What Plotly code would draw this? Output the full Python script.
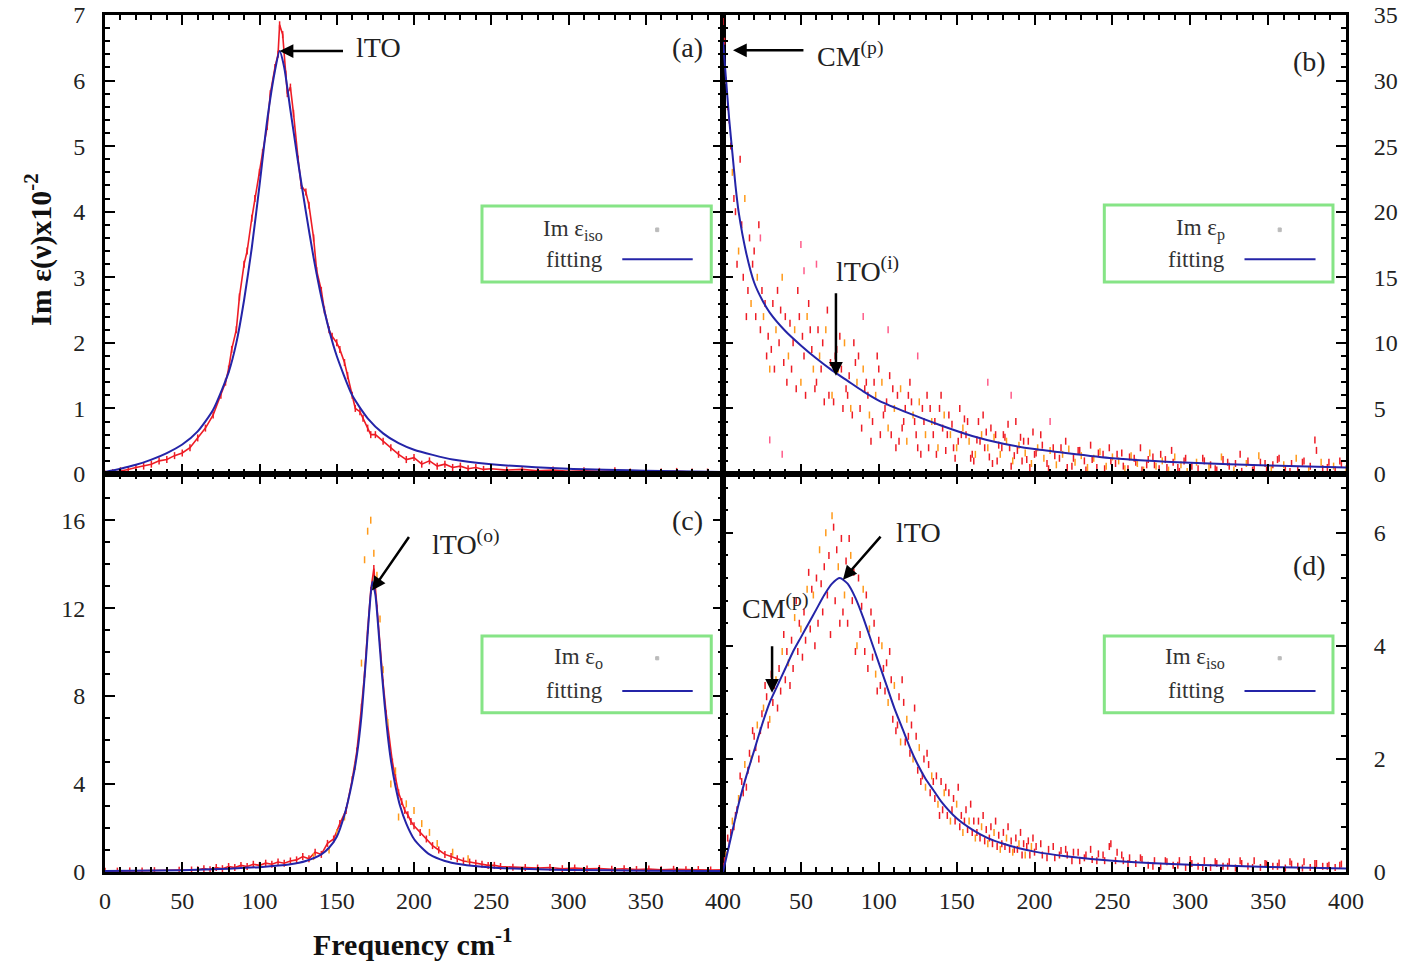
import plotly.graph_objects as go

FONT = "Liberation Serif"
RED = "#ee1c25"
ORANGE = "#ff9a1a"
PINK = "#ff5c8a"
BLUE = "#2424a8"
GREEN = "#86e486"

# ---------------- panel (a) ----------------
a_x = [0, 5, 10, 15, 20, 25, 30, 35, 40, 45, 50, 55, 60, 65, 70, 75, 78, 80, 82, 85,
       87, 90, 92, 95, 97, 100, 102, 105, 107, 110, 112, 113, 115, 117, 118, 120, 122, 125, 127, 130,
       132, 135, 137, 140, 142, 145, 147, 150, 152, 155, 157, 160, 162, 165, 167, 170, 172, 175, 180, 185,
       190, 195, 200, 205, 210, 215, 220, 225, 230, 235, 240, 245, 250, 260, 270, 280, 290, 300, 310, 320,
       330, 340, 350, 360, 370, 380, 390, 400]
a_y = [0.0, 0.02, 0.05, 0.07, 0.1, 0.12, 0.15, 0.2, 0.22, 0.28, 0.32, 0.4, 0.55, 0.7, 0.9, 1.2, 1.4, 1.6, 1.9, 2.2,
       2.7, 3.2, 3.4, 3.9, 4.2, 4.6, 4.9, 5.3, 5.8, 6.2, 6.4, 6.85, 6.7, 6.1, 5.8, 5.9, 5.5, 4.8, 4.4, 4.3,
       4.1, 3.6, 3.1, 2.8, 2.5, 2.2, 2.1, 2.0, 1.9, 1.7, 1.5, 1.2, 1.0, 0.95, 0.85, 0.7, 0.6, 0.6, 0.5, 0.4,
       0.3, 0.22, 0.25, 0.15, 0.2, 0.12, 0.15, 0.1, 0.12, 0.08, 0.1, 0.07, 0.08, 0.06, 0.07, 0.05, 0.06, 0.04, 0.05, 0.04,
       0.05, 0.03, 0.04, 0.03, 0.04, 0.03, 0.03, 0.02]
fa_x = [0, 10, 20, 30, 40, 50, 60, 70, 80, 85, 90, 95, 100, 105, 110, 113, 116, 120, 125, 130,
        135, 140, 145, 150, 160, 170, 180, 190, 200, 225, 250, 300, 350, 400]
fa_y = [0.03, 0.08, 0.14, 0.22, 0.32, 0.45, 0.65, 0.98, 1.55, 2.0, 2.65, 3.45, 4.4, 5.4, 6.15, 6.45, 6.2, 5.55, 4.75, 4.0,
        3.3, 2.7, 2.2, 1.8, 1.2, 0.85, 0.62, 0.47, 0.37, 0.22, 0.15, 0.08, 0.05, 0.03]

# ---------------- panel (b) ----------------
bR_x = [0, 4, 8, 12, 16, 20, 24, 28, 32, 36, 40, 44, 48, 52, 56, 60, 64, 68, 72, 76,
        80, 84, 88, 92, 96, 100, 104, 108, 112, 116, 120, 124, 128, 132, 136, 140, 144, 148, 152, 156,
        160, 164, 168, 172, 176, 180, 184, 188, 192, 196, 200, 204, 208, 212, 216, 220, 224, 228, 232, 236,
        240, 244, 248, 252, 256, 260, 264, 268, 272, 276, 280, 284, 288, 292, 296, 300,
        308, 316, 324, 332, 340, 348, 356, 364, 372, 380, 388, 396]
bR_y = [34.5, 27, 20, 19, 14, 17, 11, 9, 13, 10, 12, 8, 14, 9, 11, 7, 10, 6, 9, 8,
        6, 10, 5, 7, 4, 8, 5, 3, 6, 4, 7, 3, 5, 2, 4, 6, 3, 2, 5, 3,
        1.5, 4, 2, 3.5, 1, 3, 2, 4, 1, 2.5, 1.5, 3, 0.8, 2, 1.2, 2.5, 0.6, 1.8, 1, 2.2,
        0.5, 1.5, 2, 0.8, 1.6, 0.4, 1.2, 2, 0.7, 1.3, 0.4, 1.1, 1.8, 0.5, 1, 0.3,
        1.2, 0.4, 0.9, 1.5, 0.3, 0.8, 1.1, 0.2, 0.9, 2.6, 0.5, 1.0]
bR2_x = [1, 5, 9, 13, 17, 21, 25, 29, 33, 37, 41, 45, 49, 53, 57, 61, 65, 69, 73, 77,
         81, 85, 89, 93, 97, 101, 105, 109, 113, 117, 121, 125, 129, 133, 137, 141, 145, 149, 153, 157,
         161, 165, 169, 173, 177, 181, 185, 189, 193, 197, 201, 205, 209, 213, 217, 221, 225, 229, 233, 237,
         241, 245, 249, 253, 257, 261, 265, 269, 273, 277, 281, 285, 289, 293, 297, 301, 305, 309, 313, 317,
         321, 325, 329, 333, 337, 341, 345, 349, 353, 357, 361, 365, 369, 373, 377, 381, 385, 389, 393, 397]
bR2_y = [33, 25, 16, 15, 18, 12, 14, 10.5, 8, 12.5, 7, 10, 12, 6, 9.5, 11, 5.5, 8.5, 9.5, 5,
         7.5, 8.5, 3.5, 6, 7, 3, 5.5, 6.5, 2.5, 5, 5.5, 2, 4, 5, 1.5, 3.5, 4.5, 1.2, 3, 4,
         1, 2.5, 3.2, 0.8, 2.2, 2.8, 0.6, 1.8, 2.5, 0.5, 1.6, 2.2, 0.4, 1.4, 2, 0.5, 1.2, 1.8, 0.3, 1.1,
         1.6, 0.4, 1, 1.5, 0.6, 1.3, 0.9, 0.3, 1.1, 0.7, 1.5, 0.5, 0.9, 0.2, 1.2, 0.6, 0.4, 1.0, 0.7, 0.3,
         1.1, 0.6, 0.8, 0.2, 1.0, 0.5, 0.9, 0.3, 0.7, 1.2, 0.4, 0.8, 0.3, 1.0, 0.6, 1.8, 0.4, 0.9, 0.3, 0.8]
bR3_x = [3, 7, 11, 15, 19, 23, 27, 31, 35, 39, 43, 47, 51, 55, 59, 63, 67, 71, 75, 79,
         83, 87, 91, 95, 99, 103, 107, 111, 115, 119, 123, 127, 131, 135, 139, 143, 147, 151, 155, 159,
         163, 167, 171, 175, 179, 183, 187, 191, 195, 199]
bR3_y = [28, 21, 24, 12, 16, 19, 13, 9.5, 14, 8.5, 11.5, 6.5, 10.5, 13, 6.5, 8, 12.5, 5.5, 10.5, 6.5,
         4.5, 9, 6.5, 2.5, 9, 4.5, 7.5, 2, 3.5, 6, 4, 1.5, 6, 3, 5, 1.8, 3.8, 2.5, 4.2, 1.2,
         2.6, 4.5, 1.3, 3, 2, 3.8, 1.4, 2.8, 1.1, 3.2]
bO_x = [2, 6, 10, 14, 18, 22, 26, 30, 34, 38, 42, 46, 50, 54, 58, 62, 66, 70, 74, 78,
        82, 86, 90, 94, 98, 102, 106, 110, 114, 118, 122, 126, 130, 134, 138, 142, 146, 150, 154, 158,
        162, 166, 170, 174, 178, 182, 186, 190, 194, 198, 202, 206, 210, 214, 218, 222, 226, 230, 234, 238,
        242, 246, 250, 254, 258, 262, 266, 270, 274, 278, 282, 286, 290, 294, 298,
        304, 312, 320, 328, 336, 344, 352, 360, 368, 376, 384, 392, 400]
bO_y = [30, 23, 17, 21, 13, 15, 12, 8, 11, 15, 9, 11, 7, 12, 8, 9, 11, 6, 8, 10,
        5, 7, 8, 4.5, 6, 7, 3.5, 5, 6.5, 2.5, 4.5, 5.5, 3, 4, 2, 4.5, 3, 2, 3.5, 2.5,
        1.5, 3, 2, 2.8, 1.5, 2.5, 1, 2.2, 1.6, 0.8, 2, 1.2, 1.8, 0.7, 1.5, 1.9, 0.9, 1.4, 0.5, 1.2,
        1.7, 0.6, 1.3, 1, 0.4, 1.4, 0.8, 0.3, 1.6, 0.6, 1.0, 0.3, 1.3, 0.7, 0.2,
        0.9, 0.5, 1.3, 0.3, 0.8, 1.4, 0.4, 0.7, 1.2, 0.3, 0.9, 0.6, 0.4]
bP_x = [24, 50, 52, 30, 38, 60, 90, 106, 125, 170, 185, 210]
bP_y = [18, 17.5, 15.5, 2.6, 1.5, 16, 12, 11, 9, 7, 6, 4]
fb_x = [0, 2, 4, 6, 8, 10, 15, 20, 25, 30, 40, 50, 60, 70, 80, 90, 100, 120, 140, 160,
        180, 200, 220, 250, 300, 350, 400]
fb_y = [33, 30, 27, 24.5, 22, 20, 16.8, 14.6, 13.3, 12.3, 10.9, 9.8, 8.8, 7.9, 7.1, 6.3, 5.6, 4.6, 3.7, 2.9,
        2.3, 1.9, 1.6, 1.2, 0.85, 0.65, 0.5]

# ---------------- panel (c) ----------------
cR_x = [0, 8, 16, 24, 32, 40, 48, 56, 60, 64, 68, 72, 76, 80, 84, 88, 92, 96, 100, 104,
        108, 112, 116, 120, 124, 128, 132, 136, 140, 144, 148, 152, 156, 160, 163, 166, 168, 170, 172, 174,
        176, 178, 180, 182, 184, 186, 188, 190, 192, 194, 196, 198, 200, 204, 208, 212, 216, 220, 224, 228,
        232, 236, 240, 244, 248, 252, 256, 264, 272, 280, 288, 296, 304, 312, 320, 328, 336, 344, 352, 360,
        368, 376, 384, 392, 400]
cR_y = [0.03, 0.04, 0.05, 0.05, 0.06, 0.07, 0.08, 0.09, 0.1, 0.15, 0.1, 0.2, 0.15, 0.25, 0.2, 0.3, 0.25, 0.35, 0.3, 0.4,
        0.35, 0.45, 0.4, 0.5, 0.55, 0.7, 0.6, 0.9, 0.8, 1.3, 1.5, 2.2, 2.8, 4.2, 5.5, 7.5, 9.0, 11.0, 12.8, 13.8,
        12.0, 10.2, 8.6, 7.2, 6.0, 5.0, 4.3, 3.6, 3.2, 2.8, 2.6, 2.3, 2.1, 1.8, 1.5, 1.2, 1.0, 0.8, 0.7, 0.6,
        0.5, 0.45, 0.4, 0.35, 0.3, 0.3, 0.25, 0.22, 0.2, 0.18, 0.2, 0.15, 0.18, 0.14, 0.16, 0.12, 0.15, 0.11, 0.13, 0.1,
        0.12, 0.1, 0.11, 0.09, 0.1]
cO_x = [172, 170, 168, 174, 176, 166, 178, 185, 190, 195, 200, 205, 210, 215, 150, 155, 145, 135, 225, 235,
        162, 180, 183, 188]
cO_y = [16, 15.5, 14.2, 14.5, 13.5, 9.5, 11.5, 4.0, 2.5, 3.1, 2.8, 2.2, 1.8, 1.3, 1.8, 2.5, 1.0, 0.7, 0.9, 0.6,
        4.8, 9.2, 6.8, 4.6]
fc_x = [0, 50, 80, 100, 120, 130, 140, 145, 150, 155, 160, 163, 166, 169, 171, 173, 175, 177, 179, 181,
        183, 185, 188, 191, 195, 200, 205, 210, 220, 230, 250, 280, 300, 350, 400]
fc_y = [0.05, 0.08, 0.15, 0.22, 0.35, 0.5, 0.8, 1.1, 1.6, 2.6, 4.1, 5.3, 7.1, 9.8, 11.8, 13.2, 12.6, 11.0, 9.2, 7.6,
        6.2, 5.1, 3.9, 3.0, 2.2, 1.5, 1.1, 0.8, 0.5, 0.35, 0.2, 0.12, 0.09, 0.06, 0.04]

# ---------------- panel (d) ----------------
dR_x = [0, 4, 8, 12, 16, 20, 24, 28, 32, 36, 40, 44, 48, 52, 56, 60, 64, 68, 72, 76,
        80, 84, 88, 92, 96, 100, 104, 108, 112, 116, 120, 124, 128, 132, 136, 140, 144, 148, 152, 156,
        160, 164, 168, 172, 176, 180, 184, 188, 192, 196, 200, 204, 208, 212, 216, 220, 224, 228, 232, 236,
        240, 244, 248, 252, 256, 260,
        268, 276, 284, 292, 300, 308, 316, 324, 332, 340, 348, 356, 364, 372, 380, 388, 396]
dR_y = [0.1, 0.5, 1.0, 1.6, 1.8, 2.4, 2.5, 3.1, 3.0, 3.6, 3.4, 4.1, 3.9, 4.6, 4.3, 5.2, 4.6, 5.6, 4.8, 5.9,
        4.4, 5.3, 4.2, 4.9, 3.8, 4.1, 3.2, 3.4, 2.6, 3.0, 2.1, 2.4, 1.7, 1.9, 1.3, 1.6, 1.0, 1.3, 0.8, 1.1,
        0.7, 0.9, 0.55, 0.8, 0.45, 0.7, 0.4, 0.6, 0.3, 0.55, 0.35, 0.5, 0.25, 0.45, 0.3, 0.4, 0.2, 0.35, 0.25, 0.4,
        0.2, 0.3, 0.45, 0.2, 0.3, 0.15,
        0.25, 0.1, 0.2, 0.12, 0.22, 0.08, 0.18, 0.1, 0.2, 0.08, 0.15, 0.1, 0.18, 0.07, 0.15, 0.1, 0.12]
dR2_x = [1, 5, 9, 13, 17, 21, 25, 29, 33, 37, 41, 45, 49, 53, 57, 61, 65, 69, 73, 77,
         81, 85, 89, 93, 97, 101, 105, 109, 113, 117, 121, 125, 129, 133, 137, 141, 145, 149, 153, 157,
         161, 165, 169, 173, 177, 181, 185, 189, 193, 197, 201, 205, 209, 213, 217, 221, 225, 229, 233, 237,
         241, 245, 249, 253, 257, 261, 265, 269, 273, 277, 281, 285, 289, 293, 297, 301, 305, 309, 313, 317,
         321, 325, 329, 333, 337, 341, 345, 349, 353, 357, 361, 365, 369, 373, 377, 381, 385, 389, 393, 397]
dR2_y = [0.2, 0.7, 1.1, 1.4, 2.1, 2.2, 2.8, 2.6, 3.3, 3.2, 3.9, 3.6, 4.4, 4.1, 5.0, 4.4, 5.4, 4.2, 5.7, 4.6,
         5.9, 3.9, 4.7, 3.6, 4.4, 3.3, 3.7, 2.7, 3.1, 2.3, 2.6, 1.8, 2.0, 1.4, 1.7, 1.1, 1.4, 0.9, 1.0, 0.75,
         0.9, 0.6, 0.75, 0.5, 0.65, 0.45, 0.55, 0.4, 0.5, 0.3, 0.45, 0.3, 0.4, 0.25, 0.38, 0.3, 0.35, 0.2, 0.3, 0.22,
         0.32, 0.2, 0.5, 0.35, 0.2, 0.25, 0.15, 0.22, 0.12, 0.2, 0.1, 0.18, 0.12, 0.2, 0.08, 0.15, 0.1, 0.2, 0.08, 0.15,
         0.1, 0.18, 0.07, 0.15, 0.1, 0.2, 0.08, 0.14, 0.1, 0.16, 0.07, 0.14, 0.1, 0.18, 0.08, 0.15, 0.1, 0.12, 0.08, 0.14]
dR3_x = [3, 7, 11, 15, 19, 23, 27, 31, 35, 39, 43, 47, 51, 55, 59, 63, 67, 71, 75, 79,
         83, 87, 91, 95, 99, 103, 107, 111, 115, 119, 123, 127, 131, 135, 139, 143, 147, 151, 155, 159,
         163, 167, 171, 175, 179, 183, 187, 191, 195, 199]
dR3_y = [0.6, 0.8, 1.7, 1.5, 2.5, 2.0, 3.3, 3.5, 2.9, 4.2, 3.3, 4.8, 3.8, 5.3, 4.0, 5.1, 4.9, 6.1, 4.4, 5.5,
         4.8, 5.2, 3.9, 4.6, 3.2, 3.6, 3.9, 2.5, 3.4, 2.4, 2.9, 1.6, 2.1, 1.6, 1.0, 1.5, 1.1, 1.5, 0.9, 1.2,
         0.7, 1.0, 0.6, 0.9, 0.5, 0.8, 0.4, 0.7, 0.45, 0.6]
dO_x = [2, 6, 10, 14, 18, 22, 26, 30, 34, 38, 42, 46, 50, 54, 58, 62, 66, 70, 74, 78,
        82, 86, 90, 94, 98, 102, 106, 110, 114, 118, 122, 126, 130, 134, 138, 142, 146, 150, 154, 158,
        162, 166, 170, 174, 178, 182, 186, 190, 194, 198]
dO_y = [0.3, 0.9, 1.3, 1.9, 2.0, 2.6, 2.9, 2.7, 3.4, 3.9, 3.7, 4.5, 4.3, 5.0, 4.9, 5.7, 6.0, 6.3, 5.4, 4.9,
        5.6, 4.0, 5.0, 4.3, 3.5, 4.0, 3.0, 3.3, 2.3, 2.7, 2.0, 2.2, 1.5, 1.7, 1.2, 1.4, 0.9, 1.2, 0.7, 0.9,
        0.6, 0.8, 0.5, 0.7, 0.4, 0.6, 0.35, 0.5, 0.3, 0.45]
fd_x = [0, 5, 10, 15, 20, 25, 30, 35, 40, 45, 50, 55, 60, 65, 70, 75, 80, 85, 90, 95,
        100, 105, 110, 115, 120, 125, 130, 135, 140, 150, 160, 170, 180, 190, 200, 220, 250, 300, 350, 400]
fd_y = [0, 0.6, 1.2, 1.7, 2.15, 2.6, 3.0, 3.3, 3.6, 3.9, 4.15, 4.4, 4.65, 4.9, 5.1, 5.2, 5.1, 4.85, 4.5, 4.1,
        3.7, 3.3, 2.9, 2.55, 2.2, 1.9, 1.65, 1.45, 1.25, 0.95, 0.75, 0.6, 0.5, 0.42, 0.36, 0.28, 0.2, 0.13, 0.09, 0.06]

fig = go.Figure()


def scatter(x, y, color, ax, size=5, line=False):
    fig.add_trace(go.Scatter(
        x=x, y=y, mode="lines+markers" if line else "markers", xaxis=ax[0], yaxis=ax[1], showlegend=False,
        line=dict(color=color, width=1.6),
        marker=dict(symbol="line-ns", size=size, color=color, line=dict(width=1.5, color=color))))


def fit(x, y, ax):
    fig.add_trace(go.Scatter(
        x=x, y=y, mode="lines", xaxis=ax[0], yaxis=ax[1], showlegend=False,
        line=dict(color=BLUE, width=2, shape="spline", smoothing=0.6)))


A, B, C, D = ("x", "y"), ("x2", "y2"), ("x3", "y3"), ("x4", "y4")
scatter(a_x, a_y, RED, A, line=True)
fit(fa_x, fa_y, A)
scatter(bR_x, bR_y, RED, B)
scatter(bR2_x, bR2_y, RED, B)
scatter(bR3_x, bR3_y, RED, B)
scatter(bO_x, bO_y, ORANGE, B)
scatter(bP_x, bP_y, PINK, B)
fit(fb_x, fb_y, B)
scatter(cR_x, cR_y, RED, C, line=True)
scatter(cO_x, cO_y, ORANGE, C)
fit(fc_x, fc_y, C)
scatter(dR_x, dR_y, RED, D)
scatter(dR2_x, dR2_y, RED, D)
scatter(dR3_x, dR3_y, RED, D)
scatter(dO_x, dO_y, ORANGE, D)
fit(fd_x, fd_y, D)

XL = [0.0749, 0.5157]
XR = [0.5157, 0.9601]
YT = [0.5088, 0.9845]
YB = [0.0964, 0.5088]

tickfont = dict(family=FONT, size=24, color="#222")


def axis(domain, anchor, rng, dtick, minor, side=None, labels=True, standoff=12):
    d = dict(domain=domain, anchor=anchor, range=rng, dtick=dtick, tick0=0, automargin=False,
             showline=True, linewidth=3, linecolor="black", mirror="allticks",
             ticks="inside", ticklen=10, tickwidth=2, tickcolor="black",
             minor=dict(ticks="inside", ticklen=5, tickwidth=1.5, dtick=minor, tickcolor="black"),
             showgrid=False, zeroline=False, showticklabels=labels, tickfont=tickfont,
             ticklabelstandoff=standoff)
    if side:
        d["side"] = side
    return d


fig.update_layout(
    width=1402, height=965, margin=dict(l=0, r=0, t=0, b=0, autoexpand=False),
    paper_bgcolor="white", plot_bgcolor="white", showlegend=False,
    xaxis=axis(XL, "y", [0, 400], 50, 10, labels=False),
    yaxis=axis(YT, "x", [0, 7], 1, 0.2),
    xaxis2=axis(XR, "y2", [0, 400], 50, 10, labels=False),
    yaxis2=axis(YT, "x2", [0, 35], 5, 1, side="right", standoff=20),
    xaxis3=axis(XL, "y3", [0, 400], 50, 10, standoff=5),
    yaxis3=axis(YB, "x3", [0, 18.1], 4, 1),
    xaxis4=axis(XR, "y4", [0, 400], 50, 10, standoff=5),
    yaxis4=axis(YB, "x4", [0, 7.04], 2, 0.4, side="right", standoff=20),
)

ann = []
shapes = []


def arrow(xref, yref, x, y, ax_, ay_):
    ann.append(dict(x=x, y=y, xref=xref, yref=yref, ax=ax_, ay=ay_, axref=xref, ayref=yref,
                    showarrow=True, arrowhead=2, arrowsize=1.1, arrowwidth=2.5, arrowcolor="black",
                    text=""))


def label(xref, yref, x, y, text, xanchor="left", size=28):
    ann.append(dict(x=x, y=y, xref=xref, yref=yref, text=text, showarrow=False,
                    xanchor=xanchor, yanchor="middle", font=dict(family=FONT, size=size, color="#222")))


# panel (a)
arrow("x", "y", 113, 6.45, 155, 6.45)
label("x", "y", 161, 6.5, "lTO")
# panel (b)
arrow("x2", "y2", 6.4, 32.3, 52.6, 32.3)
label("x2", "y2", 59, 32.0, "CM<sup>(p)</sup>")
arrow("x2", "y2", 72.5, 7.5, 72.5, 13.9)
label("x2", "y2", 71, 15.6, "lTO<sup>(i)</sup>")
# panel (c)
arrow("x3", "y3", 172.8, 12.8, 197.4, 15.3)
label("x3", "y3", 210.5, 15.0, "lTO<sup>(o)</sup>")
# panel (d)
arrow("x4", "y4", 77, 5.17, 102, 5.96)
label("x4", "y4", 110, 6.0, "lTO")
arrow("x4", "y4", 31.5, 3.17, 31.5, 4.02)
label("x4", "y4", 11, 4.7, "CM<sup>(p)</sup>")

# panel letters
label("x domain", "y domain", 0.943, 0.93, "(a)", "center")
label("x2 domain", "y2 domain", 0.942, 0.898, "(b)", "center")
label("x3 domain", "y3 domain", 0.943, 0.882, "(c)", "center")
label("x4 domain", "y4 domain", 0.942, 0.771, "(d)", "center")

# legend boxes
legends = [("x", "y", 0.610, 0.981, 0.418, 0.584, 0.532, 0.468, "Im ε<sub>iso</sub>"),
           ("x2", "y2", 0.612, 0.979, 0.418, 0.586, 0.532, 0.468, "Im ε<sub>p</sub>"),
           ("x3", "y3", 0.610, 0.981, 0.400, 0.593, 0.537, 0.455, "Im ε<sub>o</sub>"),
           ("x4", "y4", 0.612, 0.979, 0.400, 0.593, 0.537, 0.455, "Im ε<sub>iso</sub>")]
for xa, ya, x0, x1, y0, y1, yt1, yt2, name in legends:
    xr, yr = xa + " domain", ya + " domain"
    shapes.append(dict(type="rect", xref=xr, yref=yr, x0=x0, x1=x1, y0=y0, y1=y1,
                       line=dict(color=GREEN, width=3), fillcolor="white", layer="above"))
    ann.append(dict(x=0.809, y=yt1, xref=xr, yref=yr, text=name, showarrow=False,
                    xanchor="right", yanchor="middle", font=dict(family=FONT, size=23, color="#333")))
    ann.append(dict(x=0.809, y=yt2, xref=xr, yref=yr, text="fitting", showarrow=False,
                    xanchor="right", yanchor="middle", font=dict(family=FONT, size=23, color="#333")))
    shapes.append(dict(type="line", xref=xr, yref=yr, x0=0.837, x1=0.951, y0=yt2, y1=yt2,
                       line=dict(color=BLUE, width=2), layer="above"))
    shapes.append(dict(type="rect", xref=xr, yref=yr, x0=0.891, x1=0.896, y0=yt1 - 0.004, y1=yt1 + 0.004,
                       line=dict(color="#bbbbbb", width=1), fillcolor="#bbbbbb", layer="above"))

# axis titles
ann.append(dict(x=38 / 1402, y=1 - 250 / 965, xref="paper", yref="paper", showarrow=False,
                text="<b>Im ε(ν)x10<sup>-2</sup></b>", textangle=-90,
                font=dict(family=FONT, size=30, color="#111"), xanchor="center", yanchor="middle"))
ann.append(dict(x=412 / 1402, y=1 - 942 / 965, xref="paper", yref="paper", showarrow=False,
                text="<b>Frequency cm<sup>-1</sup></b>",
                font=dict(family=FONT, size=30, color="#111"), xanchor="center", yanchor="middle"))

fig.update_layout(annotations=ann, shapes=shapes)
fig.write_html("out.html")
